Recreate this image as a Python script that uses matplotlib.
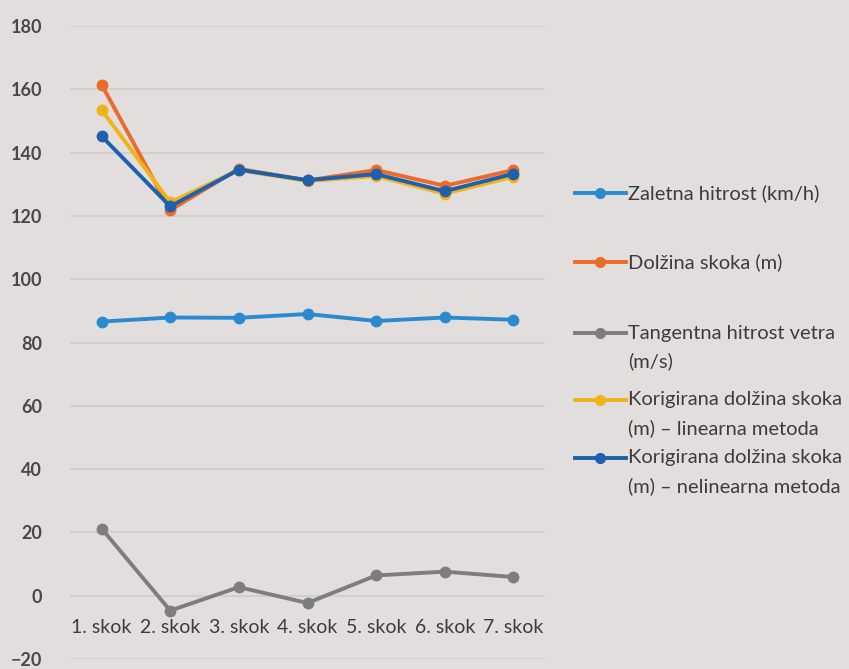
import matplotlib
matplotlib.use("Agg")
import matplotlib.pyplot as plt
from matplotlib.lines import Line2D

categories = ["1. skok", "2. skok", "3. skok", "4. skok", "5. skok", "6. skok", "7. skok"]
zaletna = [86.6, 87.9, 87.8, 89.0, 86.8, 87.9, 87.2]
dolzina = [161.5, 121.8, 134.9, 131.2, 134.5, 129.5, 134.5]
veter = [21.2, -4.7, 2.7, -2.3, 6.4, 7.6, 5.9]
kor_lin = [153.5, 124.3, 134.5, 131.0, 132.6, 127.0, 132.4]
kor_nelin = [145.2, 123.0, 134.6, 131.3, 133.2, 127.8, 133.3]

labels = [
    "Zaletna hitrost (km/h)",
    "Dolžina skoka (m)",
    "Tangentna hitrost vetra\n(m/s)",
    "Korigirana dolžina skoka\n(m) – linearna metoda",
    "Korigirana dolžina skoka\n(m) – nelinearna metoda",
]
colors = ["#2A8AD0", "#EC6A2A", "#7D7D7D", "#F0B419", "#1E5FAE"]
series = [zaletna, dolzina, veter, kor_lin, kor_nelin]

plt.rcParams["font.family"] = ["Lato", "DejaVu Sans"]
bg = "#E2DEDE"
fig = plt.figure(figsize=(8.49, 6.69), dpi=100, facecolor=bg)
W, H = 849, 669
ax = fig.add_axes([70 / W, (H - 659) / H, (545 - 70) / W, (659 - 26) / H])
ax.set_facecolor(bg)

x = list(range(len(categories)))
for vals, col in zip(series, colors):
    ax.plot(x, vals, color=col, lw=2.8, marker="o", ms=7.5, solid_capstyle="round", zorder=3)

ax.set_ylim(-20, 180)
ax.set_yticks(range(-20, 181, 20))
ax.set_xlim(-0.46, 6.46)
ax.grid(axis="y", color="#CFCBCB", lw=1.2)
ax.set_axisbelow(True)
for s in ax.spines.values():
    s.set_visible(False)
ax.spines["bottom"].set_position(("data", 0))
ax.set_xticks(x)
ax.set_xticklabels(categories)
ax.tick_params(axis="x", length=0, pad=17, labelsize=14, labelcolor="#3C3C3C")
ax.tick_params(axis="y", length=0, pad=20, labelsize=13, labelcolor="#484848")
for t in ax.get_yticklabels():
    t.set_fontweight("bold")

# legend drawn in figure pixel coordinates
entry_y = [193, 262, 333, 400, 458]
for lab, col, yy in zip(labels, colors, entry_y):
    yf = (H - yy) / H
    fig.add_artist(Line2D([575 / W, 626 / W], [yf, yf], color=col, lw=2.8,
                          transform=fig.transFigure))
    fig.add_artist(Line2D([600 / W], [yf], color=col, marker="o", ms=7,
                          transform=fig.transFigure))
    for i, ln in enumerate(lab.split("\n")):
        fig.text(628 / W, (H - yy - 28 * i) / H, ln, ha="left", va="center",
                 fontsize=14.5, color="#3C3C3C")

fig.savefig("out.png", dpi=100, facecolor=bg)
